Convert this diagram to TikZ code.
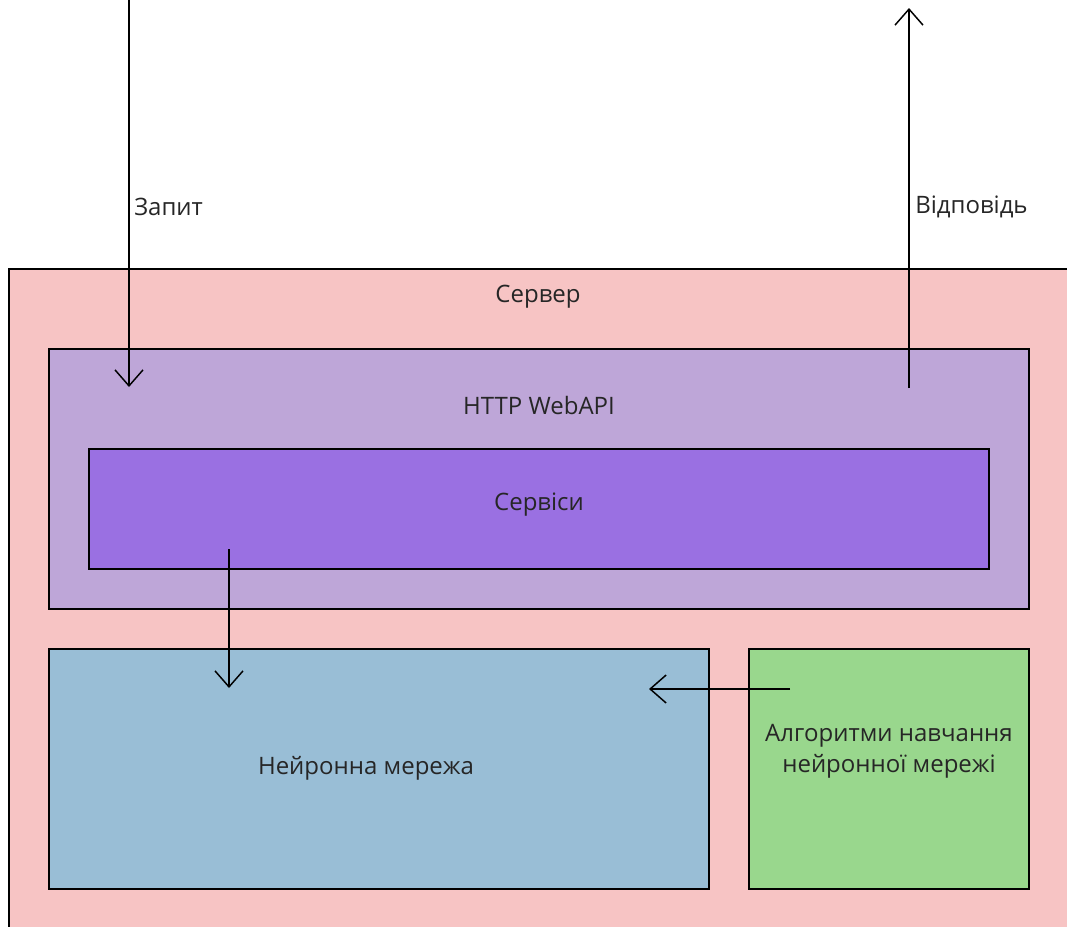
\documentclass[tikz,border=0pt]{standalone}
\usepackage{fontspec}
\setmainfont{Open Sans}
\usetikzlibrary{arrows.meta}
\definecolor{serverfill}{HTML}{F7C4C4}
\definecolor{apifill}{HTML}{BEA6D8}
\definecolor{svcfill}{HTML}{9A70E2}
\definecolor{nnfill}{HTML}{99BED6}
\definecolor{algfill}{HTML}{99D78D}
\definecolor{txt}{HTML}{262626}
\tikzset{
  x=0.75pt, y=-0.75pt,
  block/.style={draw=black, line width=1.3pt},
  lbl/.style={text=txt, font=\fontsize{18}{23}\selectfont, inner sep=0pt},
  flow/.style={draw=black, line width=1.1pt, -{Straight Barb[length=12pt,width=21pt,line width=1.1pt]}},
}
\begin{document}
\begin{tikzpicture}
\useasboundingbox (0,0) rectangle (1067,926);
% layers of the server
\path[block, fill=serverfill] (9,269) rectangle (1075,935);
\path[block, fill=apifill] (49,349) rectangle (1029,609);
\path[block, fill=svcfill] (89,449) rectangle (989,569);
\path[block, fill=nnfill] (49,649) rectangle (709,889);
\path[block, fill=algfill] (749,649) rectangle (1029,889);
\node[lbl] (server) at (538,297) {Сервер};
\node[lbl] (api) at (539,405) {HTTP WebAPI};
\node[lbl] (svc) at (539,505) {Сервіси};
\node[lbl] (nn) at (366,768) {Нейронна мережа};
\node[lbl, align=center] (alg) at (889,751) {Алгоритми навчання\\нейронної мережі};
% request and response
\coordinate (reqA) at (129,-2);
\coordinate (reqB) at (129,387);
\coordinate (resA) at (909,388);
\coordinate (resB) at (909,8);
\draw[flow] (reqA) -- (reqB);
\draw[flow] (resA) -- (resB);
\node[lbl, anchor=west] (req) at (134,207) {Запит};
\node[lbl, anchor=west] (res) at (915,207) {Відповідь};
% internal flows
\coordinate (svcOut) at (229,549);
\coordinate (nnIn) at (229,688);
\coordinate (algOut) at (790,689);
\coordinate (nnSide) at (649,689);
\draw[flow] (svcOut) -- (nnIn);
\draw[flow] (algOut) -- (nnSide);
\end{tikzpicture}
\end{document}
